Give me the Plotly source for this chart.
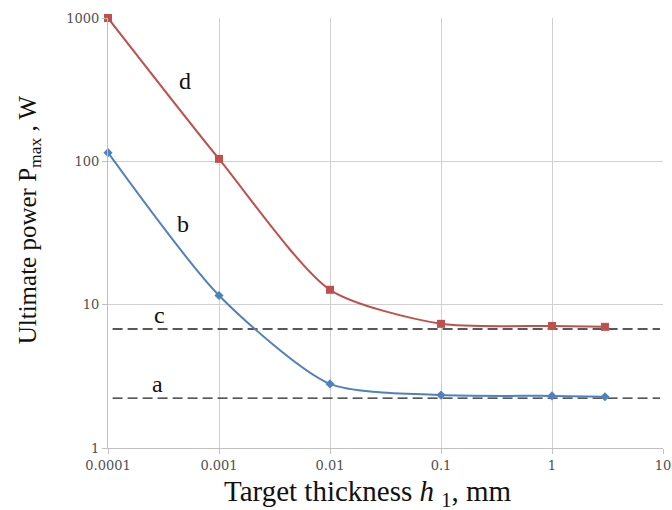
import plotly.graph_objects as go

# Data
thickness = [0.0001, 0.001, 0.01, 0.1, 1, 3]
power_d = [1000, 104, 12.7, 7.35, 7.1, 7.0]
power_b = [115, 11.6, 2.8, 2.34, 2.31, 2.28]
dash_x = [0.00011, 9.4]
level_c = [6.77, 6.77]
level_a = [2.23, 2.23]

x_tickvals = [0.0001, 0.001, 0.01, 0.1, 1, 10]
x_ticktext = ["0.0001", "0.001", "0.01", "0.1", "1", "10"]
y_tickvals = [1, 10, 100, 1000]
y_ticktext = ["1", "10", "100", "1000"]

curve_labels = ["d", "b", "c", "a"]
label_x_log = [-3.31, -3.32, -3.54, -3.55]   # log10 of thickness
label_y_log = [2.56, 1.56, 0.93, 0.45]       # log10 of power

red = "#c0504d"
blue = "#4f81bd"

fig = go.Figure()
for lvl in (level_c, level_a):
    fig.add_trace(go.Scatter(x=dash_x, y=lvl, mode="lines",
                             line=dict(color="#222222", width=1.4, dash="10px,5px"),
                             showlegend=False, hoverinfo="skip"))
fig.add_trace(go.Scatter(x=thickness, y=power_d, mode="lines+markers",
                         line=dict(color=red, width=2, shape="spline", smoothing=0.7),
                         marker=dict(symbol="square", size=8, color=red),
                         cliponaxis=False, showlegend=False))
fig.add_trace(go.Scatter(x=thickness, y=power_b, mode="lines+markers",
                         line=dict(color=blue, width=2, shape="spline", smoothing=0.7),
                         marker=dict(symbol="diamond", size=7, color=blue),
                         cliponaxis=False, showlegend=False))

for t, xv, yv in zip(curve_labels, label_x_log, label_y_log):
    fig.add_annotation(x=xv, y=yv, xref="x", yref="y", text=t, showarrow=False,
                       font=dict(family="Liberation Serif", size=24, color="#111111"),
                       xanchor="center", yanchor="middle")

tickfont = dict(family="DejaVu Serif", size=13, color="#505050")

fig.update_xaxes(type="log", range=[-4, 1], tickvals=x_tickvals, ticktext=x_ticktext,
                 showgrid=True, gridcolor="#d0d0d0", gridwidth=1,
                 showline=True, linecolor="#c0c0c0", linewidth=1,
                 ticks="outside", ticklen=5, tickcolor="#c0c0c0",
                 tickfont=tickfont, zeroline=False)
fig.update_yaxes(type="log", range=[0, 3], tickvals=y_tickvals, ticktext=y_ticktext,
                 showgrid=True, gridcolor="#d0d0d0", gridwidth=1,
                 showline=True, linecolor="#c0c0c0", linewidth=1,
                 ticks="outside", ticklen=5, tickcolor="#c0c0c0",
                 tickfont=tickfont, zeroline=False)

fig.add_annotation(x=0.469, y=-0.058, xref="paper", yref="paper",
                   text="Target thickness <i>h</i> <sub>1</sub>, mm", showarrow=False,
                   font=dict(family="Liberation Serif", size=29, color="#111111"),
                   xanchor="center", yanchor="top")
fig.add_annotation(x=-0.142, y=0.53, xref="paper", yref="paper",
                   text="Ultimate power P<sub>max</sub> , W", showarrow=False, textangle=-90,
                   font=dict(family="Liberation Serif", size=25, color="#111111"),
                   xanchor="center", yanchor="middle")

fig.update_layout(width=672, height=510,
                  margin=dict(l=108, r=9, t=18, b=62, autoexpand=False),
                  paper_bgcolor="white", plot_bgcolor="white")

fig.write_html("out.html", config={"displayModeBar": False},
               post_script="document.body.style.margin='0';")
